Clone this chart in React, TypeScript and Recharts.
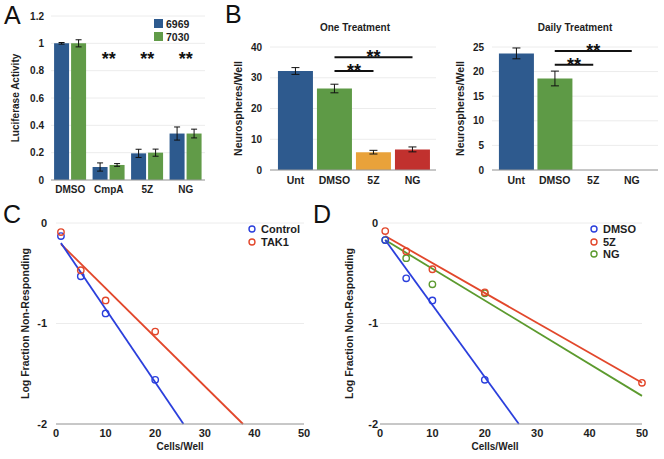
import React from "react";
import {
  Bar,
  BarChart,
  CartesianGrid,
  Cell,
  ComposedChart,
  ErrorBar,
  Line,
  ReferenceDot,
  ReferenceLine,
  Scatter,
  XAxis,
  YAxis,
} from "recharts";

// Panel A - luciferase
const lucCats = ["DMSO", "CmpA", "5Z", "NG"];
const luc6969 = [1.0, 0.095, 0.195, 0.34];
const luc6969Err = [0.006, 0.03, 0.03, 0.048];
const luc7030 = [1.0, 0.11, 0.2, 0.34];
const luc7030Err = [0.026, 0.01, 0.026, 0.032];
const lucStars = ["", "**", "**", "**"];

// Panel B - neurospheres
const nsCats = ["Unt", "DMSO", "5Z", "NG"];
const oneVals = [32.2, 26.5, 5.8, 6.7];
const oneErr = [1.1, 1.4, 0.6, 0.8];
const dailyVals = [23.7, 18.6, 0, 0];
const dailyErr = [1.1, 1.5, 0, 0];
const nsColors = ["#2e5a8e", "#5e9a46", "#e9a23a", "#c1312e"];

// Panel C - limiting dilution
const ctrlPts = [
  { x: 1, y: -0.13 },
  { x: 5, y: -0.53 },
  { x: 10, y: -0.9 },
  { x: 20, y: -1.56 },
];
const tak1Pts = [
  { x: 1, y: -0.09 },
  { x: 5, y: -0.47 },
  { x: 10, y: -0.77 },
  { x: 20, y: -1.08 },
];
const ctrlFit = [
  { x: 1, y: -0.2 },
  { x: 25.7, y: -2 },
];
const tak1Fit = [
  { x: 1, y: -0.21 },
  { x: 37.7, y: -2 },
];

// Panel D
const dmsoPts = [
  { x: 1, y: -0.17 },
  { x: 5, y: -0.55 },
  { x: 10, y: -0.77 },
  { x: 20, y: -1.56 },
];
const zPts = [
  { x: 1, y: -0.08 },
  { x: 5, y: -0.28 },
  { x: 10, y: -0.46 },
  { x: 20, y: -0.69 },
  { x: 50, y: -1.59 },
];
const ngPts = [
  { x: 1, y: -0.17 },
  { x: 5, y: -0.35 },
  { x: 10, y: -0.61 },
  { x: 20, y: -0.7 },
];
const dmsoFit = [
  { x: 1, y: -0.17 },
  { x: 26.5, y: -2 },
];
const zFit = [
  { x: 1, y: -0.13 },
  { x: 50, y: -1.59 },
];
const ngFit = [
  { x: 1, y: -0.17 },
  { x: 50, y: -1.72 },
];

const BLUE = "#2d5a8e";
const GREEN = "#619b48";
const LD_BLUE = "#2b3fdc";
const LD_RED = "#e2472b";
const LD_GREEN = "#5c9a2e";
const TXT = "#1e1e1e";

const lucData = lucCats.map((c, i) => ({
  cat: c,
  a: luc6969[i],
  aErr: luc6969Err[i],
  b: luc7030[i],
  bErr: luc7030Err[i],
}));
const oneData = nsCats.map((c, i) => ({ cat: c, v: oneVals[i], e: oneErr[i] }));
const dailyData = nsCats.map((c, i) => ({ cat: c, v: dailyVals[i], e: dailyErr[i] }));

const tickStyle = (size: number) => ({ fontSize: size, fontWeight: "bold" as const, fill: TXT });
const labelStyle = (size: number) => ({ fontSize: size, fontWeight: "bold", fill: TXT });

const ring = (color: string) => (p: any) => (
  <circle cx={p.cx} cy={p.cy} r={3.2} fill="none" stroke={color} strokeWidth={1.4} />
);

function Letter({ ch, left, top }: { ch: string; left: number; top: number }) {
  return (
    <div style={{ position: "absolute", left, top, fontSize: 25, lineHeight: "26px", color: "#111" }}>{ch}</div>
  );
}

function Title({ text, center, top }: { text: string; center: number; top: number }) {
  return (
    <div
      style={{
        position: "absolute",
        left: center - 60,
        width: 120,
        top,
        textAlign: "center",
        fontSize: 10,
        fontWeight: "bold",
        color: TXT,
        lineHeight: "12px",
      }}
    >
      {text}
    </div>
  );
}

function RingLegend({ left, top, items }: { left: number; top: number; items: [string, string][] }) {
  return (
    <div style={{ position: "absolute", left, top }}>
      {items.map(([name, color]) => (
        <div key={name} style={{ display: "flex", alignItems: "center", height: 12.5 }}>
          <svg width={10} height={10} style={{ marginRight: 3 }}>
            <circle cx={4} cy={5} r={3} fill="none" stroke={color} strokeWidth={1.4} />
          </svg>
          <span style={{ fontSize: 11, fontWeight: "bold", color: TXT }}>{name}</span>
        </div>
      ))}
    </div>
  );
}

function NsChart({ data, domainMax, ticks, lines, padL, padR }: any) {
  return (
    <BarChart width={220} height={200} data={data} margin={{ top: 47, right: 4, bottom: 0, left: 0 }} barCategoryGap="5%">
      <CartesianGrid vertical={false} stroke="#ececec" />
      <XAxis
        dataKey="cat"
        height={30}
        interval={0}
        padding={{ left: padL, right: padR }}
        axisLine={{ stroke: "#9a9a9a" }}
        tickLine={false}
        tickSize={0}
        tickMargin={7}
        tick={tickStyle(10.5)}
      />
      <YAxis
        width={50}
        domain={[0, domainMax]}
        ticks={ticks}
        axisLine={false}
        tickLine={false}
        tickSize={0}
        tickMargin={8}
        tick={tickStyle(10)}
        label={{ value: "Neurospheres/Well", angle: -90, position: "center", dx: -7, style: labelStyle(10.5) }}
      />
      <Bar dataKey="v" isAnimationActive={false}>
        {data.map((d: any, i: number) => (
          <Cell key={d.cat} fill={nsColors[i]} />
        ))}
        <ErrorBar dataKey="e" width={4} stroke="#111" strokeWidth={1} />
      </Bar>
      {lines.map((l: any) => (
        <ReferenceLine
          key={l.to}
          segment={[
            { x: l.from, y: l.y },
            { x: l.to, y: l.y },
          ]}
          stroke="#111"
          strokeWidth={2}
          label={{ value: "**", position: "top", offset: -6, style: { fontSize: 18, fontWeight: "bold", fill: "#111" } }}
        />
      ))}
    </BarChart>
  );
}

export default function App() {
  return (
    <div
      style={{
        position: "absolute",
        left: 0,
        top: 0,
        width: 664,
        height: 459,
        background: "#fff",
        fontFamily: '"Liberation Sans", Arial, Helvetica, sans-serif',
        overflow: "hidden",
      }}
    >
      {/* A */}
      <div style={{ position: "absolute", left: 0, top: 0 }}>
        <BarChart width={215} height={200} data={lucData} margin={{ top: 16, right: 10, bottom: 0, left: 0 }} barCategoryGap="8%" barGap={2}>
          <CartesianGrid vertical={false} stroke="#ececec" />
          <XAxis
            dataKey="cat"
            height={20}
            interval={0}
            axisLine={{ stroke: "#9a9a9a" }}
            tickLine={false}
            tickSize={0}
            tickMargin={6}
            tick={tickStyle(10)}
          />
          <YAxis
            width={51}
            domain={[0, 1.2]}
            ticks={[0, 0.2, 0.4, 0.6, 0.8, 1, 1.2]}
            axisLine={false}
            tickLine={false}
            tickSize={0}
            tickMargin={7}
            tick={tickStyle(10)}
            label={{ value: "Luciferase Activity", angle: -90, position: "center", dx: -10, style: labelStyle(10) }}
          />
          <Bar dataKey="a" fill={BLUE} isAnimationActive={false}>
            <ErrorBar dataKey="aErr" width={3} stroke="#111" strokeWidth={1} />
          </Bar>
          <Bar dataKey="b" fill={GREEN} isAnimationActive={false}>
            <ErrorBar dataKey="bErr" width={3} stroke="#111" strokeWidth={1} />
          </Bar>
          {lucCats.map((c, i) =>
            lucStars[i] ? (
              <ReferenceDot
                key={c}
                x={c}
                y={0.89}
                r={0}
                stroke="none"
                label={{ value: lucStars[i], position: "center", style: { fontSize: 18, fontWeight: "bold", fill: "#111" } }}
              />
            ) : null
          )}
        </BarChart>
      </div>
      <div style={{ position: "absolute", left: 154, top: 17 }}>
        {[
          ["6969", BLUE],
          ["7030", GREEN],
        ].map(([n, c]) => (
          <div key={n} style={{ display: "flex", alignItems: "center", height: 13 }}>
            <div style={{ width: 9, height: 9, background: c, marginRight: 3 }} />
            <span style={{ fontSize: 10.5, fontWeight: "bold", color: TXT }}>{n}</span>
          </div>
        ))}
      </div>

      {/* B */}
      <Title text="One Treatment" center={355} top={22} />
      <div style={{ position: "absolute", left: 220, top: 0 }}>
        <NsChart
          data={oneData}
          domainMax={40}
          ticks={[0, 10, 20, 30, 40]}
          padL={6}
          padR={4}
          lines={[
            { from: "DMSO", to: "NG", y: 36.7 },
            { from: "DMSO", to: "5Z", y: 32.2 },
          ]}
        />
      </div>
      <Title text="Daily Treatment" center={575} top={22} />
      <div style={{ position: "absolute", left: 442, top: 0 }}>
        <NsChart
          data={dailyData}
          domainMax={25}
          ticks={[0, 5, 10, 15, 20, 25]}
          padL={5}
          padR={7}
          lines={[
            { from: "DMSO", to: "NG", y: 24.2 },
            { from: "DMSO", to: "5Z", y: 21.4 },
          ]}
        />
      </div>

      {/* C */}
      <div style={{ position: "absolute", left: 0, top: 200 }}>
        <ComposedChart width={332} height={259} margin={{ top: 23, right: 28, bottom: 0, left: 0 }}>
          <CartesianGrid vertical={false} stroke="#ececec" />
          <XAxis
            type="number"
            dataKey="x"
            domain={[0, 50]}
            ticks={[0, 10, 20, 30, 40, 50]}
            height={35}
            axisLine={{ stroke: "#9a9a9a" }}
            tickLine={false}
            tickSize={0}
            tickMargin={5}
            tick={tickStyle(11)}
            label={{ value: "Cells/Well", position: "insideBottom", offset: 9, style: labelStyle(10) }}
          />
          <YAxis
            type="number"
            domain={[-2, 0]}
            ticks={[-2, -1, 0]}
            width={56}
            axisLine={false}
            tickLine={false}
            tickSize={0}
            tickMargin={9}
            tick={tickStyle(11)}
            label={{ value: "Log Fraction Non-Responding", angle: -90, position: "center", dx: -3, style: labelStyle(10.5) }}
          />
          <Line data={tak1Fit} dataKey="y" stroke={LD_RED} strokeWidth={1.8} dot={false} isAnimationActive={false} />
          <Line data={ctrlFit} dataKey="y" stroke={LD_BLUE} strokeWidth={1.8} dot={false} isAnimationActive={false} />
          <Scatter data={ctrlPts} dataKey="y" shape={ring(LD_BLUE)} isAnimationActive={false} />
          <Scatter data={tak1Pts} dataKey="y" shape={ring(LD_RED)} isAnimationActive={false} />
        </ComposedChart>
      </div>
      <RingLegend
        left={248}
        top={223}
        items={[
          ["Control", LD_BLUE],
          ["TAK1", LD_RED],
        ]}
      />

      {/* D */}
      <div style={{ position: "absolute", left: 332, top: 200 }}>
        <ComposedChart width={332} height={259} margin={{ top: 23, right: 22, bottom: 0, left: 0 }}>
          <CartesianGrid vertical={false} stroke="#ececec" />
          <XAxis
            type="number"
            dataKey="x"
            domain={[0, 50]}
            ticks={[0, 10, 20, 30, 40, 50]}
            height={35}
            axisLine={{ stroke: "#9a9a9a" }}
            tickLine={false}
            tickSize={0}
            tickMargin={5}
            tick={tickStyle(11)}
            label={{ value: "Cells/Well", position: "insideBottom", offset: 9, dx: -16, style: labelStyle(10) }}
          />
          <YAxis
            type="number"
            domain={[-2, 0]}
            ticks={[-2, -1, 0]}
            width={48}
            axisLine={false}
            tickLine={false}
            tickSize={0}
            tickMargin={2}
            tick={tickStyle(11)}
            label={{ value: "Log Fraction Non-Responding", angle: -90, position: "center", dx: -7, style: labelStyle(10.5) }}
          />
          <Line data={ngFit} dataKey="y" stroke={LD_GREEN} strokeWidth={1.8} dot={false} isAnimationActive={false} />
          <Line data={zFit} dataKey="y" stroke={LD_RED} strokeWidth={1.8} dot={false} isAnimationActive={false} />
          <Line data={dmsoFit} dataKey="y" stroke={LD_BLUE} strokeWidth={1.8} dot={false} isAnimationActive={false} />
          <Scatter data={ngPts} dataKey="y" shape={ring(LD_GREEN)} isAnimationActive={false} />
          <Scatter data={zPts} dataKey="y" shape={ring(LD_RED)} isAnimationActive={false} />
          <Scatter data={dmsoPts} dataKey="y" shape={ring(LD_BLUE)} isAnimationActive={false} />
        </ComposedChart>
      </div>
      <RingLegend
        left={590}
        top={223}
        items={[
          ["DMSO", LD_BLUE],
          ["5Z", LD_RED],
          ["NG", LD_GREEN],
        ]}
      />

      <Letter ch="A" left={4} top={2} />
      <Letter ch="B" left={225} top={1} />
      <Letter ch="C" left={3} top={201} />
      <Letter ch="D" left={313} top={201} />
    </div>
  );
}
